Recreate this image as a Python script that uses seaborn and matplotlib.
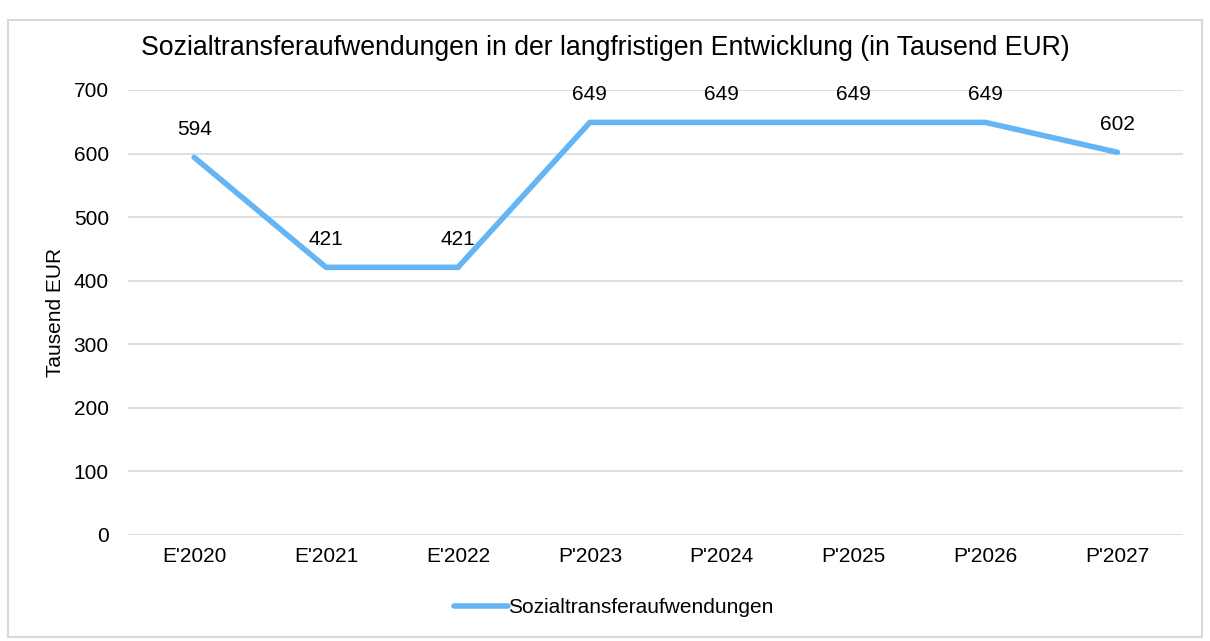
import pandas as pd
import matplotlib.pyplot as plt
import seaborn as sns
from matplotlib.patches import Rectangle

# values
jahre = ["E'2020", "E'2021", "E'2022", "P'2023", "P'2024", "P'2025", "P'2026", "P'2027"]
werte = [594, 421, 421, 649, 649, 649, 649, 602]
serie = "Sozialtransferaufwendungen"

df = pd.DataFrame({"jahr": jahre, "wert": werte})
df["pos"] = range(len(df))

sns.set_style("white")
plt.rcParams['font.family'] = ['Liberation Sans', 'DejaVu Sans']
plt.rcParams.update({"text.color": "black", "axes.labelcolor": "black",
                     "xtick.color": "black", "ytick.color": "black"})

fs = 15

fig = plt.figure(figsize=(12.1, 6.41), dpi=100)
ax = fig.add_axes([0.106, 0.1654, 0.872, 0.6942])

sns.lineplot(data=df, x="pos", y="wert", ax=ax, color="#64B5F6", linewidth=4,
             label=serie, solid_capstyle="round")

for p, w in zip(df["pos"], df["wert"]):
    ax.annotate(str(w), (p, w), xytext=(0, 13), textcoords="offset points",
                ha="center", va="bottom", fontsize=fs)

ax.set_xlim(-0.5, len(jahre) - 0.5)
ax.set_ylim(0, 700)
ax.set_yticks(range(0, 701, 100))
ax.set_xticks(df["pos"])
ax.set_xticklabels(jahre)
ax.tick_params(axis="both", labelsize=fs, length=0)
ax.tick_params(axis="y", pad=14)
ax.tick_params(axis="x", pad=9)
ax.grid(axis="y", color="#d9d9d9", linewidth=1.2)
ax.set_axisbelow(True)
for s in ax.spines.values():
    s.set_visible(False)
ax.set_xlabel("")
ax.set_ylabel("Tausend EUR", fontsize=fs, labelpad=6)

fig.suptitle("Sozialtransferaufwendungen in der langfristigen Entwicklung (in Tausend EUR)",
             fontsize=19.2, y=0.945)

leg = ax.legend(loc="center", bbox_to_anchor=(0.507, 0.052),
                bbox_transform=fig.transFigure, frameon=False,
                fontsize=fs, handlelength=2.6, handletextpad=0.0)

fig.patches.append(Rectangle((0.007, 0.007), 0.986, 0.962, transform=fig.transFigure,
                             fill=False, edgecolor="#d9d9d9", linewidth=1.5))

fig.savefig("out.png", dpi=100)
